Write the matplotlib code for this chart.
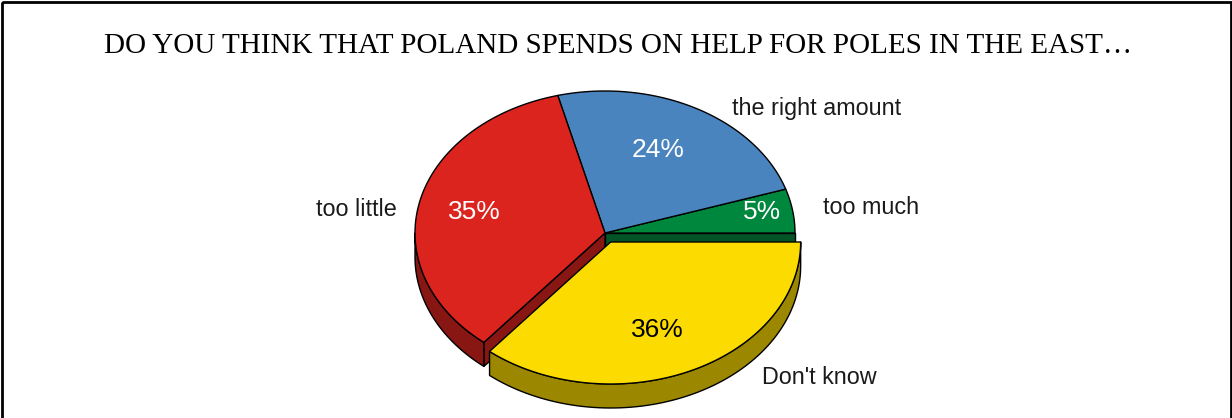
import numpy as np
import matplotlib
matplotlib.use("Agg")
import matplotlib.pyplot as plt
from matplotlib.patches import Polygon, Rectangle
from matplotlib.colors import to_rgb

# data
labels = ["too much", "the right amount", "too little", "Don't know"]
shares = [5, 24, 35, 36]
colors = ["#00873E", "#4A84BF", "#DC241F", "#FBDB00"]
pct_colors = ["white", "white", "white", "black"]
explode = [0, 0, 0, 0.07]

title = "DO YOU THINK THAT POLAND SPENDS ON HELP FOR POLES IN THE EAST\u2026"

# layout (pixel units, y down)
W, H = 1232, 418
cx, cy = 605, 233
rx, ry = 190, 142
depth = 24
pct_pos = [(762, 212), (658, 150), (474, 212), (657, 330)]
lab_pos = [(823, 208, "left"), (732, 108, "left"), (397, 210, "right"), (762, 377, "left")]

fig = plt.figure(figsize=(W / 100, H / 100), dpi=100)
ax = fig.add_axes([0, 0, 1, 1])
ax.set_xlim(0, W)
ax.set_ylim(H, 0)
ax.axis("off")


def pt(t, ox, oy, dz=0):
    return (ox + rx * np.cos(t), oy - ry * np.sin(t) + dz)


def darken(c, f=0.62):
    r, g, b = to_rgb(c)
    return (r * f, g * f, b * f)


n = len(shares)
total = float(sum(shares))
bounds = np.concatenate([[0], np.cumsum(shares) / total * 2 * np.pi])

slices = []
for i in range(n):
    a, b = bounds[i], bounds[i + 1]
    mid = (a + b) / 2
    ox = cx + explode[i] * rx * np.cos(mid)
    oy = cy - explode[i] * ry * np.sin(mid)
    slices.append((i, a, b, ox, oy))

kw = dict(edgecolor="black", linewidth=1, joinstyle="round")


def draw_sides(i, a, b, ox, oy):
    side = darken(colors[i])
    # radial faces next to an exploded slice, if they face the viewer
    prev_i, next_i = (i - 1) % n, (i + 1) % n
    for t, sgn, nb in ((a, 1, prev_i), (b, -1, next_i)):
        if explode[i] == 0 and explode[nb] == 0:
            continue
        ny = -np.cos(t) * sgn
        if ny < -1e-6:
            p = pt(t, ox, oy)
            poly = [(ox, oy), p, (p[0], p[1] + depth), (ox, oy + depth)]
            ax.add_patch(Polygon(poly, closed=True, facecolor=side, **kw))
    # outer curved side (lower half only)
    lo, hi = max(a, np.pi), min(b, 2 * np.pi)
    if hi > lo:
        ts = np.linspace(lo, hi, 80)
        top = [pt(t, ox, oy) for t in ts]
        bot = [pt(t, ox, oy, depth) for t in ts[::-1]]
        ax.add_patch(Polygon(top + bot, closed=True, facecolor=side, **kw))


def draw_top(i, a, b, ox, oy):
    ts = np.linspace(a, b, 120)
    poly = [(ox, oy)] + [pt(t, ox, oy) for t in ts]
    ax.add_patch(Polygon(poly, closed=True, facecolor=colors[i], **kw))


flat = [s for s in slices if explode[s[0]] == 0]
out = [s for s in slices if explode[s[0]] != 0]
for s in flat:
    draw_sides(*s)
for s in flat:
    draw_top(*s)
for s in out:
    draw_sides(*s)
    draw_top(*s)

for i in range(n):
    x, y = pct_pos[i]
    ax.text(x, y, f"{shares[i]}%", color=pct_colors[i], fontsize=19,
            family="Liberation Sans", ha="center", va="center")
    lx, ly, ha = lab_pos[i]
    ax.text(lx, ly, labels[i], color="#1a1a1a", fontsize=16.8,
            family="Liberation Sans", ha=ha, va="center")

ax.text(618, 53, title, fontsize=21, family="Liberation Serif",
        ha="center", va="baseline")

ax.add_patch(Rectangle((2, 1.5), W - 3, H + 20, fill=False,
                       edgecolor="black", linewidth=2, clip_on=True))

fig.savefig("out.png", dpi=100)
